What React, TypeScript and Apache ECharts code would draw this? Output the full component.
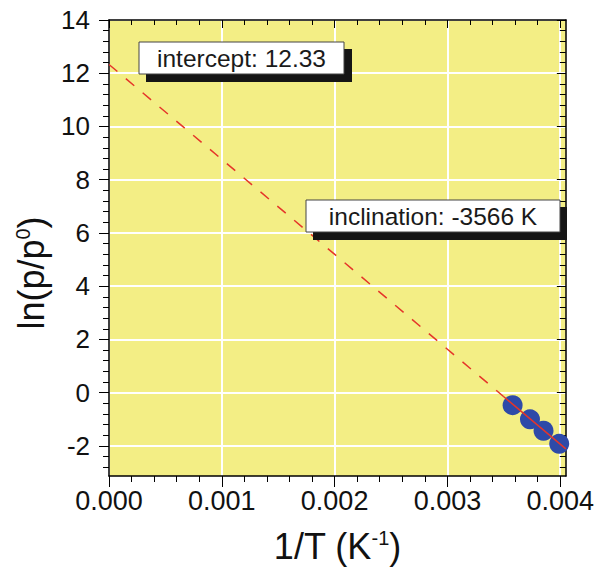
import React, { useEffect, useRef } from "react";
import * as echarts from "echarts";

// ---- data ----
const invT = [0.003578, 0.003732, 0.003852, 0.003991];
const lnP = [-0.47, -1.0, -1.43, -1.92];
const intercept = 12.33;
const inclination = -3566;
// fitted line end points (extrapolated dashed part, fitted solid part)
const fitDashedX = [0, 0.0035];
const fitSolidX = [0.0035, 0.00405];
const xMajorTicks = [0, 0.001, 0.002, 0.003, 0.004];
const yMajorTicks = [-2, 0, 2, 4, 6, 8, 10, 12, 14];
const X_MIN = 0;
const X_MAX = 0.00405;
const Y_MIN = -3.13;
const Y_MAX = 14;
const annotations = ["intercept: 12.33", "inclination: -3566 K"];

const FONT = '"Liberation Sans", Arial, Helvetica, sans-serif';
const RED = "#E5352A";
const BLUE = "#2E4AA8";
const YELLOW = "#F3EE85";

function steps(from: number, to: number, step: number): number[] {
  const out: number[] = [];
  const n = Math.round((to - from) / step);
  for (let i = 0; i <= n; i++) out.push(Math.round((from + i * step) * 1e7) / 1e7);
  return out;
}
const xMinorTicks = steps(0, 0.004, 0.0002);
const yMinorTicks = steps(-2.8, 14, 0.4);

const fitY = (x: number) => intercept + inclination * x;

export default function App() {
  const ref = useRef<HTMLDivElement>(null);
  useEffect(() => {
    document.body.style.margin = "0";
    const chart = echarts.init(ref.current!, undefined, { renderer: "svg" });
    const line = { show: true, onZero: false, lineStyle: { color: "#000", width: 1.5 } };
    const noLine = { show: false, onZero: false };
    const tickLine = { color: "#000", width: 1 };
    const hidden = { show: false };
    const xBase = { type: "value", min: X_MIN, max: X_MAX, splitNumber: 4, gridIndex: 0 };
    const yBase = { type: "value", min: Y_MIN, max: Y_MAX, splitNumber: 8, gridIndex: 0 };
    const nameStyle = {
      fontSize: 36,
      color: "#111",
      fontFamily: FONT,
      rich: { sup: { fontSize: 20, verticalAlign: "top", fontFamily: FONT, color: "#111" } },
    };
    const option: any = {
      animation: false,
      grid: {
        left: 109,
        right: 31,
        top: 20,
        bottom: 87,
        show: true,
        backgroundColor: YELLOW,
        borderWidth: 0,
      },
      xAxis: [
        {
          ...xBase,
          position: "bottom",
          axisLine: line,
          axisTick: { show: true, inside: false, length: 11, customValues: xMajorTicks, lineStyle: tickLine },
          axisLabel: {
            customValues: xMajorTicks,
            formatter: (v: number) => v.toFixed(3),
            fontSize: 27,
            color: "#111",
            margin: 11,
            fontFamily: FONT,
          },
          splitLine: { show: true, lineStyle: { color: "#fff", width: 2 } },
          name: "1/T (K{sup|-1})",
          nameLocation: "middle",
          nameGap: 52,
          nameTextStyle: nameStyle,
        },
        {
          ...xBase,
          position: "bottom",
          axisLine: noLine,
          axisTick: { show: true, inside: false, length: 6, customValues: xMinorTicks, lineStyle: tickLine },
          axisLabel: hidden,
          splitLine: hidden,
        },
        {
          ...xBase,
          position: "top",
          axisLine: line,
          axisTick: { show: true, inside: true, length: 8, customValues: xMajorTicks, lineStyle: tickLine },
          axisLabel: hidden,
          splitLine: hidden,
        },
        {
          ...xBase,
          position: "top",
          axisLine: noLine,
          axisTick: { show: true, inside: true, length: 5, customValues: xMinorTicks, lineStyle: tickLine },
          axisLabel: hidden,
          splitLine: hidden,
        },
      ],
      yAxis: [
        {
          ...yBase,
          position: "left",
          axisLine: line,
          axisTick: { show: true, inside: false, length: 10, customValues: yMajorTicks, lineStyle: tickLine },
          axisLabel: {
            customValues: yMajorTicks,
            fontSize: 26,
            color: "#111",
            margin: 19,
            fontFamily: FONT,
          },
          splitLine: { show: true, lineStyle: { color: "#fff", width: 2 } },
          name: "ln(p/p{sup|0})",
          nameLocation: "middle",
          nameGap: 60,
          nameTextStyle: { ...nameStyle, padding: [0, 50, 0, 0] },
        },
        {
          ...yBase,
          position: "left",
          axisLine: noLine,
          axisTick: { show: true, inside: false, length: 6, customValues: yMinorTicks, lineStyle: tickLine },
          axisLabel: hidden,
          splitLine: hidden,
        },
        {
          ...yBase,
          position: "right",
          axisLine: line,
          axisTick: { show: true, inside: true, length: 9, customValues: yMajorTicks, lineStyle: tickLine },
          axisLabel: hidden,
          splitLine: hidden,
        },
        {
          ...yBase,
          position: "right",
          axisLine: noLine,
          axisTick: { show: true, inside: true, length: 6, customValues: yMinorTicks, lineStyle: tickLine },
          axisLabel: hidden,
          splitLine: hidden,
        },
      ],
      series: [
        {
          type: "scatter",
          xAxisIndex: 0,
          yAxisIndex: 0,
          data: invT.map((x, i) => [x, lnP[i]]),
          symbol: "circle",
          symbolSize: 20,
          itemStyle: { color: BLUE, opacity: 1 },
          z: 2,
        },
        {
          type: "line",
          xAxisIndex: 0,
          yAxisIndex: 0,
          data: fitDashedX.map((x) => [x, fitY(x)]),
          symbol: "none",
          lineStyle: { color: RED, width: 1.5, type: [11, 11] },
          z: 3,
          silent: true,
        },
        {
          type: "line",
          xAxisIndex: 0,
          yAxisIndex: 0,
          data: fitSolidX.map((x) => [x, fitY(x)]),
          symbol: "none",
          lineStyle: { color: RED, width: 1.5 },
          z: 3,
          silent: true,
        },
      ],
      graphic: [
        { type: "rect", z: 10, shape: { x: 146, y: 49, width: 206, height: 33 }, style: { fill: "#151515" } },
        { type: "rect", z: 11, shape: { x: 139, y: 42, width: 205, height: 32 }, style: { fill: "#fff", stroke: "#444", lineWidth: 1 } },
        {
          type: "text",
          z: 12,
          x: 241.5,
          y: 58,
          style: { text: annotations[0], fontSize: 24.5, fill: "#1a1a1a", align: "center", verticalAlign: "middle", fontFamily: FONT },
        },
        { type: "rect", z: 10, shape: { x: 313, y: 207, width: 254, height: 33 }, style: { fill: "#151515" } },
        { type: "rect", z: 11, shape: { x: 306, y: 200, width: 254, height: 32 }, style: { fill: "#fff", stroke: "#444", lineWidth: 1 } },
        {
          type: "text",
          z: 12,
          x: 433,
          y: 216.5,
          style: { text: annotations[1], fontSize: 24.5, fill: "#1a1a1a", align: "center", verticalAlign: "middle", fontFamily: FONT },
        },
      ],
    };
    chart.setOption(option);
    return () => chart.dispose();
  }, []);
  return <div ref={ref} style={{ width: 597, height: 569 }} />;
}
